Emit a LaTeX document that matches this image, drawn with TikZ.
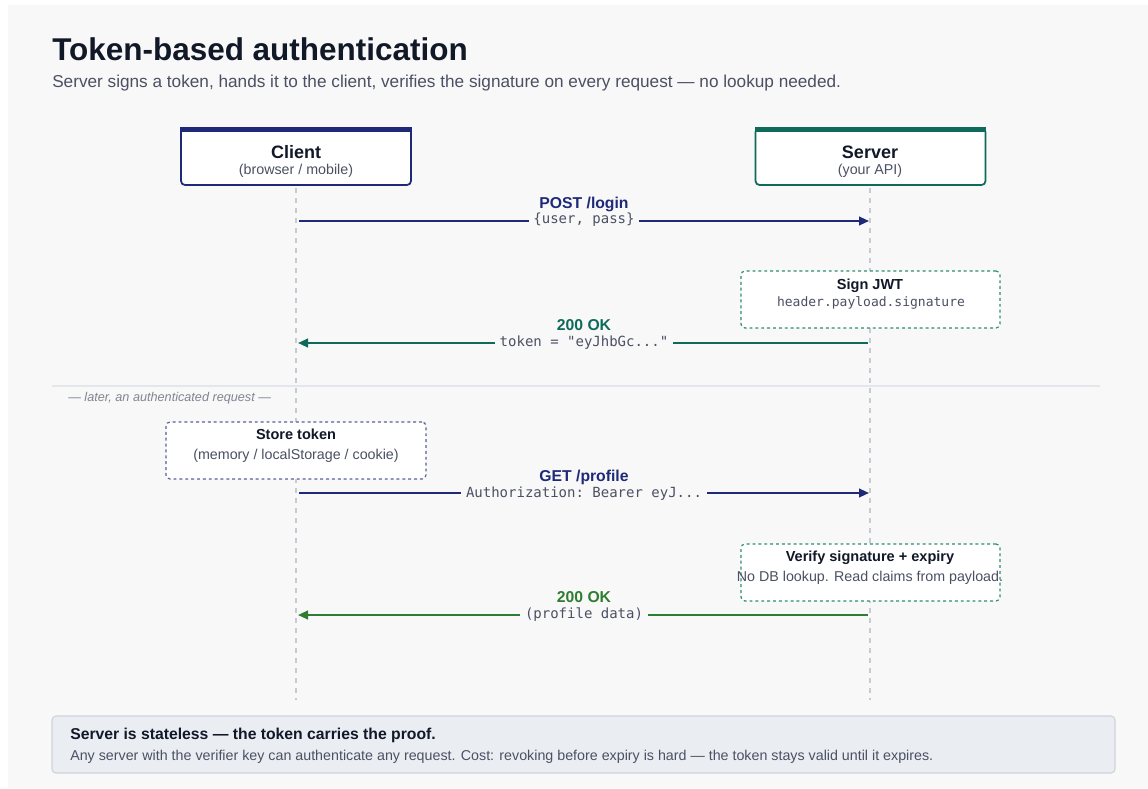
\documentclass[tikz,border=0pt]{standalone}
\usepackage{fontspec}
\setmainfont{Liberation Sans}
\setmonofont{DejaVu Sans Mono}
\usetikzlibrary{arrows.meta}
\definecolor{bgpanel}{HTML}{F8F8F8}
\definecolor{navy}{HTML}{1E2A78}
\definecolor{teal}{HTML}{0E6B5A}
\definecolor{okgreen}{HTML}{2E7D32}
\definecolor{ink}{HTML}{111827}
\definecolor{subink}{HTML}{4B5063}
\definecolor{lifegray}{HTML}{C8CCD2}
\definecolor{sepgray}{HTML}{E3E6EA}
\definecolor{footfill}{HTML}{EAEEF3}
\definecolor{footline}{HTML}{CDD3DB}
\definecolor{tealdash}{HTML}{2E8C78}
\definecolor{navydash}{HTML}{5A5F9E}
\tikzset{
  actor/.style={draw=#1, line width=1.3pt, rounded corners=3pt, fill=white, minimum width=230*0.75pt, minimum height=57*0.75pt, inner sep=0pt},
  notebox/.style={draw=#1, dashed, dash pattern=on 2.2pt off 2.2pt, line width=0.9pt, rounded corners=3pt, fill=white, minimum width=259*0.75pt, minimum height=57*0.75pt, inner sep=0pt},
  lifeline/.style={draw=lifegray, line width=0.8pt, dash pattern=on 4pt off 3.5pt},
  msg/.style={line width=1.5pt, -{Triangle[length=7.5pt,width=6.5pt]}},
  msgtitle/.style={font=\fontsize{11.8pt}{11.8pt}\selectfont\bfseries, inner sep=0pt},
  msgbody/.style={font=\fontsize{10.5pt}{10.5pt}\ttfamily, text=subink, fill=bgpanel, inner sep=0pt, inner xsep=3.5pt, minimum height=11pt},
  boxtitle/.style={anchor=base, inner sep=0pt, text=ink, font=\fontsize{10.9pt}{10.9pt}\selectfont\bfseries},
  boxsub/.style={anchor=base, inner sep=0pt, text=subink, font=\fontsize{10.7pt}{10.7pt}\selectfont},
}
\begin{document}
\begin{tikzpicture}[x=0.75pt,y=-0.75pt]
\useasboundingbox (0,0) rectangle (1148,788);
\fill[white] (0,0) rectangle (1148,788);
\fill[bgpanel] (8,5) rectangle (1148,788);

% title
\node[anchor=base west, inner sep=0pt, text=ink, font=\fontsize{23.6pt}{23.6pt}\selectfont\bfseries] (title) at (52,61) {Token-based authentication};
\node[anchor=base west, inner sep=0pt, text=subink, font=\fontsize{12.9pt}{12.9pt}\selectfont] (subtitle) at (52,88) {Server signs a token, hands it to the client, verifies the signature on every request — no lookup needed.};

% lifelines
\coordinate (cl0) at (296,188);
\coordinate (cl1) at (296,700);
\coordinate (sl0) at (870,188);
\coordinate (sl1) at (870,700);
\draw[lifeline] (cl0) -- (cl1);
\draw[lifeline] (sl0) -- (sl1);

% separator
\coordinate (sep0) at (52,386);
\coordinate (sep1) at (1100,386);
\draw[sepgray, line width=0.8pt] (sep0) -- (sep1);
\node[anchor=base west, inner sep=0pt, text=subink!70, font=\fontsize{9.5pt}{9.5pt}\selectfont\itshape] (later) at (68,401) {— later, an authenticated request —};

% actors
\node[actor=navy] (client) at (296,156.5) {};
\fill[navy] (client.north west) -- ++(0,-4pt) -- ([yshift=-4pt]client.north east) -- (client.north east) -- cycle;
\node[anchor=base, inner sep=0pt, text=ink, font=\fontsize{13.5pt}{13.5pt}\selectfont\bfseries] (clientt) at (296,158) {Client};
\node[boxsub] (clients) at (296,175) {(browser / mobile)};

\node[actor=teal] (server) at (870.5,156.5) {};
\fill[teal] (server.north west) -- ++(0,-4pt) -- ([yshift=-4pt]server.north east) -- (server.north east) -- cycle;
\node[anchor=base, inner sep=0pt, text=ink, font=\fontsize{13.5pt}{13.5pt}\selectfont\bfseries] (servert) at (870,158) {Server};
\node[boxsub] (servers) at (870,175) {(your API)};

% message 1
\coordinate (m1a) at (299,221);
\coordinate (m1b) at (869,221);
\draw[msg, navy] (m1a) -- (m1b);
\node[msgtitle, text=navy, anchor=base] (m1t) at (584,208) {POST /login};
\node[msgbody, anchor=center] (m1l) at (584,220) {\{user, pass\}};

% sign box
\node[notebox=tealdash] (sign) at (870.5,299.5) {};
\node[boxtitle] (signt) at (870,289) {Sign JWT};
\node[anchor=base, inner sep=0pt, text=subink, font=\fontsize{9.75pt}{9.75pt}\ttfamily] (signs) at (871,306) {header.payload.signature};

% message 2
\coordinate (m2a) at (868,343);
\coordinate (m2b) at (298,343);
\draw[msg, teal] (m2a) -- (m2b);
\node[msgtitle, text=teal, anchor=base] (m2t) at (584,330) {200 OK};
\node[msgbody, anchor=center] (m2l) at (584,342.5) {token = "eyJhbGc..."};

% store box
\node[notebox=navydash, minimum width=260*0.75pt] (store) at (296,450.5) {};
\node[boxtitle] (storet) at (296,439) {Store token};
\node[boxsub] (stores) at (296,459) {(memory / localStorage / cookie)};

% message 3
\coordinate (m3a) at (299,493);
\coordinate (m3b) at (869,493);
\draw[msg, navy] (m3a) -- (m3b);
\node[msgtitle, text=navy, anchor=base] (m3t) at (584,481) {GET /profile};
\node[msgbody, anchor=center] (m3l) at (584,493.5) {Authorization: Bearer eyJ...};

% verify box
\node[notebox=tealdash] (verify) at (870.5,572.5) {};
\node[boxtitle] (verifyt) at (870,561) {Verify signature + expiry};
\node[boxsub] (verifys) at (870,581) {No DB lookup. Read claims from payload.};

% message 4
\coordinate (m4a) at (868,615);
\coordinate (m4b) at (298,615);
\draw[msg, okgreen] (m4a) -- (m4b);
\node[msgtitle, text=okgreen, anchor=base] (m4t) at (584,602) {200 OK};
\node[msgbody, anchor=center] (m4l) at (584,614.5) {(profile data)};

% footer
\draw[fill=footfill, draw=footline, line width=0.8pt, rounded corners=3pt] (52,716) rectangle (1115,773);
\node[anchor=base west, inner sep=0pt, text=ink, font=\fontsize{11.8pt}{11.8pt}\selectfont\bfseries] (foott) at (70,739) {Server is stateless — the token carries the proof.};
\node[anchor=base west, inner sep=0pt, text=subink, font=\fontsize{10.7pt}{10.7pt}\selectfont] (foots) at (70,760) {Any server with the verifier key can authenticate any request. Cost: revoking before expiry is hard — the token stays valid until it expires.};
\end{tikzpicture}
\end{document}
